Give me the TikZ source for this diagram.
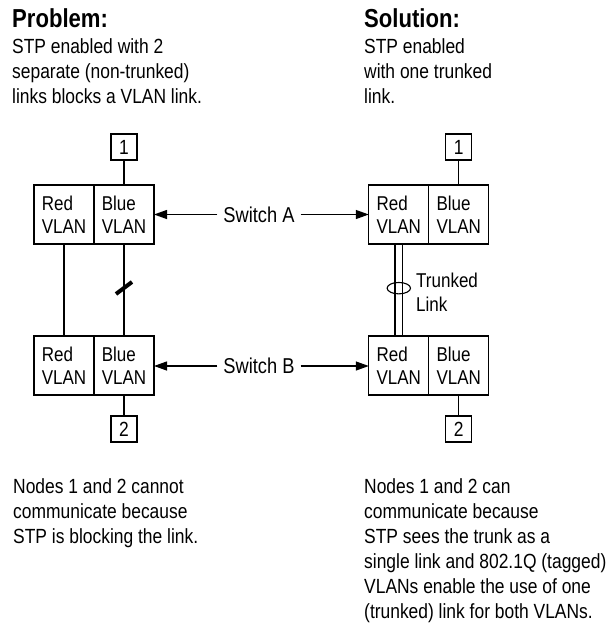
\documentclass[tikz,border=0pt]{standalone}
\usepackage{fontspec}
\setmainfont{Liberation Sans}[FakeStretch=0.85]
\usetikzlibrary{arrows.meta,positioning,calc}

\tikzset{
  vlan/.style={draw, line width=1.3pt, outer sep=0pt, minimum width=60pt,
    minimum height=59pt, inner sep=0pt, align=left,
    font=\fontsize{20}{23.5}\selectfont},
  host/.style={draw, line width=1.3pt, outer sep=0pt, minimum size=26pt,
    inner sep=0pt, font=\fontsize{20.5}{21}\selectfont},
  swlabel/.style={inner xsep=6pt, inner ysep=0pt, font=\fontsize{21.5}{24}\selectfont},
  head/.style={inner sep=0pt, font=\fontsize{26}{30}\selectfont\bfseries},
  note/.style={inner sep=0pt, align=left, font=\fontsize{20.5}{25}\selectfont},
  link/.style={line width=1.3pt},
  ptr/.style={line width=1.3pt, -{Triangle[length=13pt,width=9pt]}},
}

\begin{document}
\begin{tikzpicture}[x=1pt, y=-1pt]
  \useasboundingbox (0,0) rectangle (613,625);

  % titulos e textos
  \node[head, anchor=base west] (probT) at (12,27) {Problem:};
  \node[note, anchor=north west] (probN) at (12,38)
    {STP enabled with 2\\separate (non-trunked)\\links blocks a VLAN link.};
  \node[head, anchor=base west] (solT) at (364,27) {Solution:};
  \node[note, anchor=north west] (solN) at (364,38)
    {STP enabled\\with one trunked\\link.};

  % problema: switches A e B
  \node[vlan] (redA) at (64,214.5) {Red\\VLAN};
  \node[vlan, right=0pt of redA] (blueA) {Blue\\VLAN};
  \node[vlan, below=92pt of redA] (redB) {Red\\VLAN};
  \node[vlan, right=0pt of redB] (blueB) {Blue\\VLAN};
  \node[host, above=25pt of blueA] (n1L) {1};
  \node[host, below=21pt of blueB] (n2L) {2};

  \draw[link] (n1L) -- (blueA);
  \draw[link] (n2L) -- (blueB);
  \draw[link] (redA) -- (redB);
  \draw[link] (blueA) -- (blueB);
  % enlace bloqueado
  \coordinate (blk) at ($(blueA.south)!0.478!(blueB.north)$);
  \draw[line width=4pt] (blk) +(-8,6) -- +(8,-6);

  % solucao: switches A e B
  \node[vlan] (redC) at (398.8,214.5) {Red\\VLAN};
  \node[vlan, right=0pt of redC] (blueC) {Blue\\VLAN};
  \node[vlan, below=92pt of redC] (redD) {Red\\VLAN};
  \node[vlan, right=0pt of redD] (blueD) {Blue\\VLAN};
  \node[host, above=25pt of blueC] (n1R) {1};
  \node[host, below=21pt of blueD] (n2R) {2};

  \draw[link] (n1R) -- (blueC);
  \draw[link] (n2R) -- (blueD);
  % enlace tronco
  \draw[link] ([xshift=-3.8pt]redC.south) -- ([xshift=-3.8pt]redD.north);
  \draw[link] ([xshift=3.8pt]redC.south) -- ([xshift=3.8pt]redD.north);
  \coordinate (ring) at ($(redC.south)!0.48!(redD.north)$);
  \draw[line width=1.1pt] (ring) ellipse [x radius=11.7, y radius=5.7];
  \node[note, anchor=west, font=\fontsize{20}{24.5}\selectfont] (trk) at (416,292)
    {Trunked\\Link};

  % rotulos dos switches
  \node[swlabel] (swA) at (259,214.5) {Switch A};
  \draw[ptr] (swA.west) -- (swA.west -| blueA.east);
  \draw[ptr] (swA.east) -- (swA.east -| redC.west);
  \node[swlabel] (swB) at (259,366) {Switch B};
  \draw[ptr] (swB.west) -- (swB.west -| blueB.east);
  \draw[ptr] (swB.east) -- (swB.east -| redD.west);

  % conclusoes
  \node[note, anchor=north west] (probR) at (13,478)
    {Nodes 1 and 2 cannot\\communicate because\\STP is blocking the link.};
  \node[note, anchor=north west] (solR) at (364,478)
    {Nodes 1 and 2 can\\communicate because\\STP sees the trunk as a\\single link and 802.1Q (tagged)\\VLANs enable the use of one\\(trunked) link for both VLANs.};
\end{tikzpicture}
\end{document}
